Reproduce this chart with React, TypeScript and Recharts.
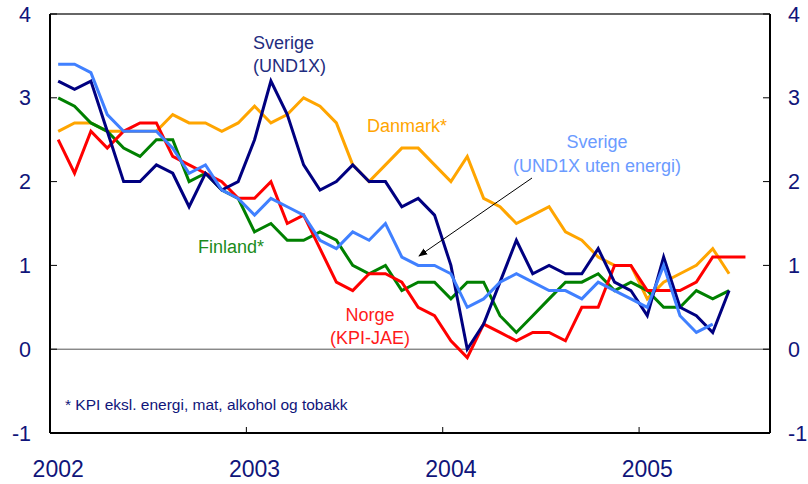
import React from 'react'
import { LineChart, Line, XAxis, YAxis, ReferenceLine } from 'recharts'

// monthly values, Jan 2002 onwards (12-month change, %)
const sverige = [
  3.2, 3.1, 3.2, 2.6, 2.0, 2.0, 2.2, 2.1, 1.7, 2.1, 1.9, 2.0,
  2.5, 3.2, 2.8, 2.2, 1.9, 2.0, 2.2, 2.0, 2.0, 1.7, 1.8, 1.6,
  1.0, 0.0, 0.3, 0.8, 1.3, 0.9, 1.0, 0.9, 0.9, 1.2, 0.8, 0.7,
  0.4, 1.1, 0.5, 0.4, 0.2, 0.7,
]
const sverigeUtenEnergi = [
  3.4, 3.4, 3.3, 2.8, 2.6, 2.6, 2.6, 2.4, 2.1, 2.2, 1.9, 1.8,
  1.6, 1.8, 1.7, 1.6, 1.3, 1.2, 1.4, 1.3, 1.5, 1.1, 1.0, 1.0,
  0.9, 0.5, 0.6, 0.8, 0.9, 0.8, 0.7, 0.7, 0.6, 0.8, 0.7, 0.6,
  0.5, 1.0, 0.4, 0.2, 0.3,
]
const finland = [
  3.0, 2.9, 2.7, 2.6, 2.4, 2.3, 2.5, 2.5, 2.0, 2.1, 1.9, 1.8,
  1.4, 1.5, 1.3, 1.3, 1.4, 1.3, 1.0, 0.9, 1.0, 0.7, 0.8, 0.8,
  0.6, 0.8, 0.8, 0.4, 0.2, 0.4, 0.6, 0.8, 0.8, 0.9, 0.7, 0.8,
  0.7, 0.5, 0.5, 0.7, 0.6, 0.7,
]
const norge = [
  2.5, 2.1, 2.6, 2.4, 2.6, 2.7, 2.7, 2.3, 2.2, 2.1, 2.0, 1.8,
  1.8, 2.0, 1.5, 1.6, 1.2, 0.8, 0.7, 0.9, 0.9, 0.8, 0.5, 0.4,
  0.1, -0.1, 0.3, 0.2, 0.1, 0.2, 0.2, 0.1, 0.5, 0.5, 1.0, 1.0,
  0.7, 0.7, 0.7, 0.8, 1.1, 1.1, 1.1,
]
const danmark = [
  2.6, 2.7, 2.7, 2.6, 2.6, 2.6, 2.6, 2.8, 2.7, 2.7, 2.6, 2.7,
  2.9, 2.7, 2.8, 3.0, 2.9, 2.7, 2.2, 2.0, 2.2, 2.4, 2.4, 2.2,
  2.0, 2.3, 1.8, 1.7, 1.5, 1.6, 1.7, 1.4, 1.3, 1.1, 1.0, 1.0,
  0.6, 0.8, 0.9, 1.0, 1.2, 0.9,
]

const yearLabels = ['2002', '2003', '2004', '2005']
const yearTicks = [0, 12, 24, 36] // month index where each year starts
const yTicks = [-1, 0, 1, 2, 3, 4]
const MONTHS = 44 // Jan 2002 - Aug 2005

const data = Array.from({ length: MONTHS }, (_, i) => ({
  t: i + 0.5,
  sverige: sverige[i] ?? null,
  sverigeUtenEnergi: sverigeUtenEnergi[i] ?? null,
  finland: finland[i] ?? null,
  norge: norge[i] ?? null,
  danmark: danmark[i] ?? null,
}))

const W = 808
const H = 484
const LEFT_W = 50
const RIGHT_W = 38
const X_H = 51
const FONT = '"Liberation Sans", Arial, sans-serif'
const NAVY = '#10157a'

const X_MARGIN = 36
const Y_MARGIN_L = 19
const Y_MARGIN_R = 18

const XTick = ({ x, y, payload, index }: any) => {
  const axisY = y - X_MARGIN
  const half = (W - LEFT_W - RIGHT_W) / MONTHS / 2
  return (
    <g>
      {payload.value > 0 && <line x1={x} x2={x} y1={axisY} y2={axisY - 6} stroke="#000" strokeWidth={1} />}
      <text x={x + half} y={y} dy="0.35em" textAnchor="middle" fill={NAVY} fontSize={23} fontFamily={FONT}>
        {yearLabels[index]}
      </text>
    </g>
  )
}

const YTickLeft = ({ x, y, payload }: any) => {
  const axisX = x + Y_MARGIN_L
  return (
    <g>
      <line x1={axisX} x2={axisX + 7} y1={y} y2={y} stroke="#000" />
      <text x={x} y={y} dy="0.35em" textAnchor="end" fill={NAVY} fontSize={21.5} fontFamily={FONT}>
        {payload.value}
      </text>
    </g>
  )
}

const YTickRight = ({ x, y, payload }: any) => {
  const axisX = x - Y_MARGIN_R
  return (
    <g>
      <line x1={axisX - 7} x2={axisX} y1={y} y2={y} stroke="#000" />
      <text x={x} y={y} dy="0.35em" textAnchor="start" fill={NAVY} fontSize={21.5} fontFamily={FONT}>
        {payload.value}
      </text>
    </g>
  )
}

const Note = ({ x, y, color, children, anchor = 'middle', size = 18 }: any) => (
  <text x={x} y={y} dy="0.35em" textAnchor={anchor} fill={color} fontSize={size} fontFamily={FONT}>
    {children}
  </text>
)

export default function App() {
  return (
    <div style={{ position: 'absolute', left: 0, top: 0, width: W, height: H, background: '#fff' }}>
      <LineChart width={W} height={H} data={data} margin={{ top: 14, right: 0, bottom: 0, left: 0 }}>
        <XAxis
          dataKey="t"
          type="number"
          domain={[0, MONTHS]}
          ticks={yearTicks}
          interval={0}
          height={X_H}
          tickSize={0}
          tickMargin={X_MARGIN}
          tick={<XTick />}
          axisLine={{ stroke: '#000', strokeWidth: 2 }}
        />
        <YAxis
          yAxisId="l"
          domain={[-1, 4]}
          ticks={yTicks}
          interval={0}
          width={LEFT_W}
          tickSize={0}
          tickMargin={Y_MARGIN_L}
          tick={<YTickLeft />}
          axisLine={{ stroke: '#000', strokeWidth: 2 }}
        />
        <YAxis
          yAxisId="r"
          orientation="right"
          domain={[-1, 4]}
          ticks={yTicks}
          interval={0}
          width={RIGHT_W}
          tickSize={0}
          tickMargin={Y_MARGIN_R}
          tick={<YTickRight />}
          axisLine={{ stroke: '#000', strokeWidth: 2 }}
        />
        <ReferenceLine yAxisId="l" y={0} stroke="#555" strokeWidth={1} />
        <ReferenceLine yAxisId="l" y={4} stroke="#333" strokeWidth={1.5} />
        {/* both y axes share the same fixed domain; Danmark is bound to the right one so it renders */}
        <Line yAxisId="r" type="linear" dataKey="danmark" stroke="#FFA500" strokeWidth={3} dot={false} isAnimationActive={false} />
        <Line yAxisId="l" type="linear" dataKey="finland" stroke="#008000" strokeWidth={3} dot={false} isAnimationActive={false} />
        <Line yAxisId="l" type="linear" dataKey="norge" stroke="#FF0000" strokeWidth={3} dot={false} isAnimationActive={false} />
        <Line yAxisId="l" type="linear" dataKey="sverige" stroke="#000080" strokeWidth={3} dot={false} isAnimationActive={false} />
        <Line yAxisId="l" type="linear" dataKey="sverigeUtenEnergi" stroke="#4080FF" strokeWidth={3} dot={false} isAnimationActive={false} />
      </LineChart>
      <svg width={W} height={H} style={{ position: 'absolute', left: 0, top: 0, pointerEvents: 'none' }}>
        <defs>
          <marker id="arrow" viewBox="0 0 10 10" refX="9" refY="5" markerWidth="9" markerHeight="9" orient="auto">
            <path d="M0,1 L10,5 L0,9 z" fill="#000" />
          </marker>
        </defs>
        <line x1={532} y1={178} x2={419} y2={256} stroke="#000" strokeWidth={1} markerEnd="url(#arrow)" />
        <Note x={253} y={43} color="#1f2d80" anchor="start">Sverige</Note>
        <Note x={253} y={66} color="#1f2d80" anchor="start">(UND1X)</Note>
        <Note x={407} y={126} color="#FFA500">Danmark*</Note>
        <Note x={597} y={142} color="#6b9bff">Sverige</Note>
        <Note x={597} y={166} color="#6b9bff">(UND1X uten energi)</Note>
        <Note x={231} y={247} color="#1a8c1a">Finland*</Note>
        <Note x={370} y={315} color="#ff1a1a">Norge</Note>
        <Note x={370} y={338} color="#ff1a1a">(KPI-JAE)</Note>
        <Note x={65} y={405} color={NAVY} anchor="start" size={15.5}>* KPI eksl. energi, mat, alkohol og tobakk</Note>
      </svg>
    </div>
  )
}
